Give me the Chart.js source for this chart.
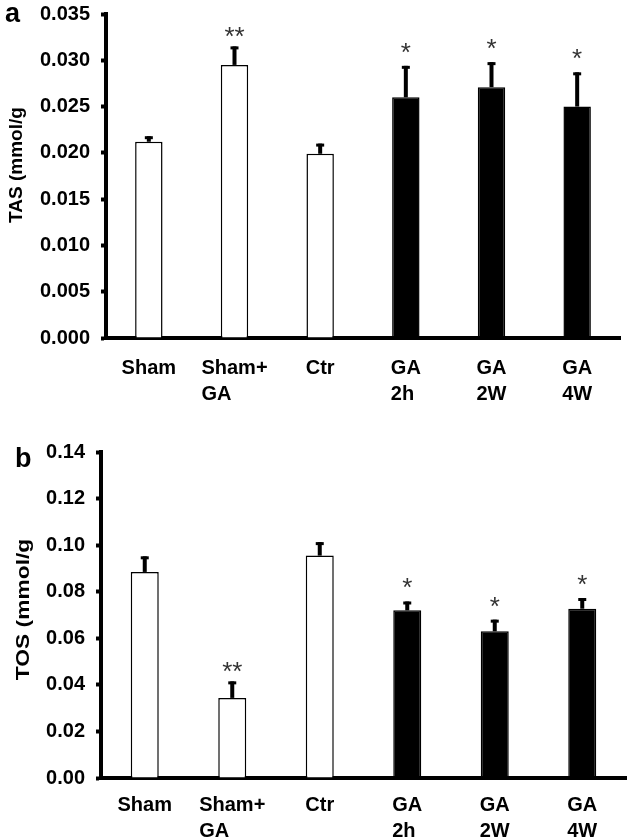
<!DOCTYPE html>
<html><head><meta charset="utf-8">
<script src="https://cdn.jsdelivr.net/npm/chart.js@4.4.1/dist/chart.umd.min.js"></script>
<style>html,body{margin:0;padding:0;background:#fff;}canvas{display:block;}</style>
</head><body>
<canvas id="ca" width="629" height="419"></canvas>
<canvas id="cb" width="629" height="419"></canvas>
<script>
// ---- data ----
const categories = [['Sham'], ['Sham+', 'GA'], ['Ctr'], ['GA', '2h'], ['GA', '2W'], ['GA', '4W']];
const tasMean = [0.0212, 0.0295, 0.0199, 0.0260, 0.0271, 0.0250];
const tasSD   = [0.0006, 0.0020, 0.0011, 0.0034, 0.0027, 0.0037];
const tasSig  = ['', '**', '', '*', '*', '*'];
const tasTicks = [0.000, 0.005, 0.010, 0.015, 0.020, 0.025, 0.030, 0.035];
const tosMean = [0.0885, 0.0344, 0.0955, 0.0720, 0.0630, 0.0727];
const tosSD   = [0.0067, 0.0071, 0.0058, 0.0038, 0.0050, 0.0046];
const tosSig  = ['', '**', '', '*', '*', '*'];
const tosTicks = [0.00, 0.02, 0.04, 0.06, 0.08, 0.10, 0.12, 0.14];
const groupFill = ['#ffffff', '#ffffff', '#ffffff', '#000000', '#000000', '#000000'];

const FONT = "'Liberation Sans', Arial, sans-serif";

const annot = {
  id: 'annot',
  afterDatasetsDraw(chart, args, o) {
    const ctx = chart.ctx, y = chart.scales.y;
    const meta = chart.getDatasetMeta(0);
    meta.data.forEach((bar, i) => {
      const top = y.getPixelForValue(o.mean[i] + o.sd[i]);
      const bx = bar.x;
      ctx.save();
      ctx.fillStyle = '#000';
      ctx.fillRect(bx - 2, top, 4, bar.y - top);
      ctx.fillRect(bx - 4, top, 8, 3);
      if (o.sig[i]) {
        ctx.font = '26px ' + FONT;
        ctx.fillStyle = '#333';
        ctx.textAlign = 'center';
        ctx.textBaseline = 'alphabetic';
        const m = ctx.measureText(o.sig[i]);
        const gap = o.sig[i].length > 1 ? 14 : 18;
        const target = top - gap;
        const base = target - (m.actualBoundingBoxDescent - m.actualBoundingBoxAscent) / 2;
        ctx.fillText(o.sig[i], bx, base);
      }
      ctx.restore();
    });
  },
  afterDraw(chart, args, o) {
    const ctx = chart.ctx, x = chart.scales.x;
    ctx.save();
    ctx.fillStyle = '#000';
    ctx.font = 'bold 20px ' + FONT;
    ctx.textAlign = 'left';
    ctx.textBaseline = 'alphabetic';
    chart.data.labels.forEach((lines, i) => {
      const cx = x.getPixelForTick(i);
      const w = Math.max(...lines.map(l => ctx.measureText(l).width));
      lines.forEach((l, k) => {
        ctx.fillText(l, cx - w / 2, chart.chartArea.bottom + o.labelGap + k * 26);
      });
    });
    ctx.font = 'bold 27px ' + FONT;
    ctx.fillText(o.letter, o.letterX, o.letterY);
    // rotated y-axis title
    ctx.save();
    ctx.translate(o.titleX, o.titleY);
    ctx.rotate(-Math.PI / 2);
    ctx.scale(o.titleStretch, 1);
    ctx.font = 'bold 19px ' + FONT;
    ctx.textAlign = 'center';
    ctx.textBaseline = 'middle';
    ctx.fillText(o.title, 0, 0);
    ctx.restore();
    ctx.restore();
  }
};

function makeChart(id, mean, sd, sig, ticks, decimals, title, letter, lx, ly, pad, xh, labelGap, tx, ty, ts) {
  return new Chart(document.getElementById(id), {
    type: 'bar',
    data: {
      labels: categories,
      datasets: [{
        data: mean,
        backgroundColor: groupFill,
        borderColor: '#000',
        borderWidth: 1.5,
        borderSkipped: 'bottom',
        categoryPercentage: 1,
        barPercentage: 0.32
      }]
    },
    options: {
      responsive: false,
      animation: false,
      devicePixelRatio: 1,
      layout: { padding: { top: pad.top, right: pad.right, left: 0, bottom: 0 } },
      plugins: {
        legend: { display: false },
        tooltip: { enabled: false },
        annot: { mean, sd, sig, letter, letterX: lx, letterY: ly, labelGap,
                 title, titleX: tx, titleY: ty, titleStretch: ts }
      },
      scales: {
        x: {
          grid: { display: false },
          border: { display: true, color: '#000', width: 4 },
          ticks: { display: false },
          afterFit: s => { s.height = xh; s.paddingLeft = 0; s.paddingRight = 0; }
        },
        y: {
          min: ticks[0], max: ticks[ticks.length - 1],
          afterBuildTicks: s => { s.ticks = ticks.map(v => ({ value: v })); },
          grid: { drawOnChartArea: false, drawTicks: true, tickLength: 5, tickWidth: 4, tickColor: '#000', color: '#000' },
          border: { display: true, color: '#000', width: 4 },
          ticks: {
            color: '#000', padding: pad.tickPad,
            font: { family: FONT, size: 20, weight: 'bold' },
            callback: v => Number(v).toFixed(decimals)
          },
          title: { display: false },
          afterFit: s => { s.width = pad.yw; s.paddingTop = 0; s.paddingBottom = 0; }
        }
      }
    },
    plugins: [annot]
  });
}

makeChart('ca', tasMean, tasSD, tasSig, tasTicks, 3, 'TAS (mmol/g', 'a', 5, 22,
  { top: 14, right: 9, yw: 106, tickPad: 11 }, 81, 35.5, 17, 165, 1.0);
makeChart('cb', tosMean, tosSD, tosSig, tosTicks, 2, 'TOS (mmol/g', 'b', 15, 48,
  { top: 33, right: 3, yw: 101, tickPad: 11 }, 60, 33, 24, 190.5, 1.2);
</script>
</body></html>
